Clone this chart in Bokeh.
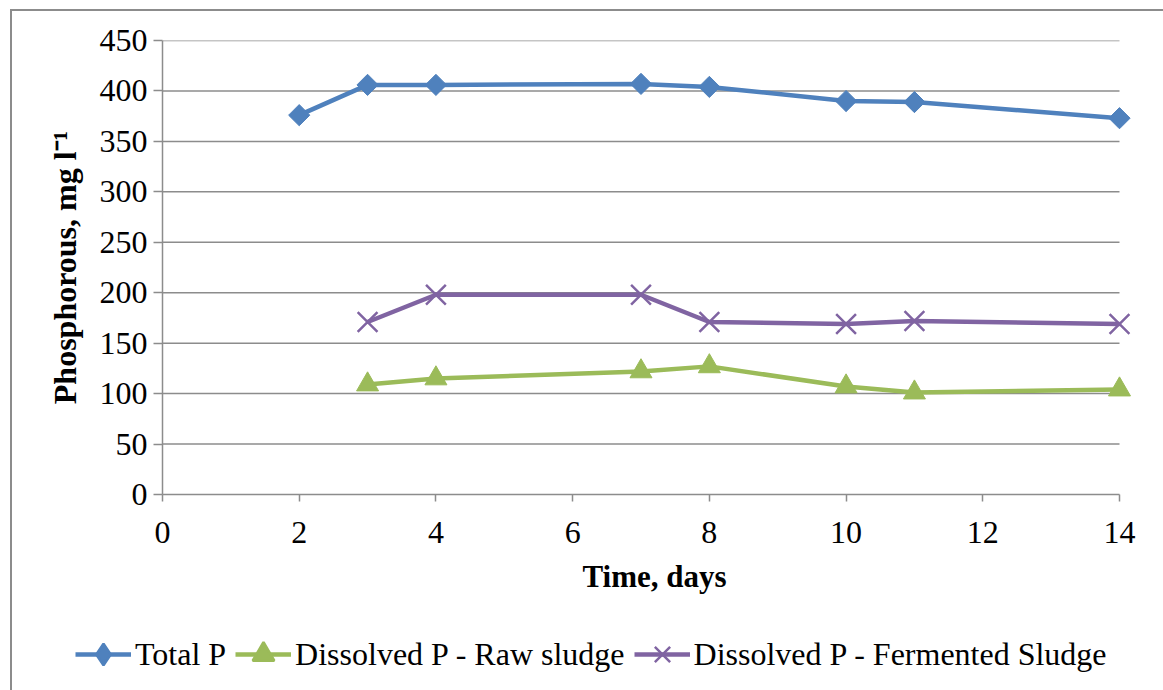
from bokeh.plotting import figure
from bokeh.layouts import column
from bokeh.models import Range1d, FixedTicker, Legend, LegendItem
from bokeh.embed import file_html
from bokeh.resources import INLINE
import math

# ---- data ----
days_total = [2, 3, 4, 7, 8, 10, 11, 14]
total_p = [376, 406, 406, 407, 404, 390, 389, 373]

days_diss = [3, 4, 7, 8, 10, 11, 14]
raw_sludge = [109, 115, 122, 127, 107, 101, 104]
fermented_sludge = [171, 198, 198, 171, 169, 172, 169]

x_ticks = [0, 2, 4, 6, 8, 10, 12, 14]
y_ticks = [0, 50, 100, 150, 200, 250, 300, 350, 400, 450]

series_labels = ["Total P", "Dissolved P - Raw sludge", "Dissolved P - Fermented Sludge"]
colors = ["#4F81BD", "#9BBB59", "#8064A2"]

FONT = "Liberation Serif"
GRID = "#8c8c8c"
BORDER = "2px solid #8c8c8c"

x_min, x_max = x_ticks[0], x_ticks[-1]
# a little room right of the last tick so the end markers are not cut
x_pad = 0.395

# ---- main chart ----
p = figure(width=1151, height=599, output_backend="svg", toolbar_location=None,
           x_range=Range1d(x_min, x_max + x_pad), y_range=Range1d(y_ticks[0], y_ticks[-1]),
           min_border_left=150, min_border_right=17, min_border_top=29,
           min_border_bottom=116)
p.outline_line_color = None
p.background_fill_color = "white"
p.border_fill_color = "white"

p.xaxis.ticker = FixedTicker(ticks=x_ticks)
p.yaxis.ticker = FixedTicker(ticks=y_ticks)
p.xaxis.bounds = (x_min, x_max)
for ax in (p.xaxis[0], p.yaxis[0]):
    ax.axis_line_color = GRID
    ax.axis_line_width = 1.5
    ax.major_tick_line_color = GRID
    ax.major_tick_line_width = 1.5
    ax.major_tick_in = 0
    ax.minor_tick_line_color = None
    ax.major_label_text_font = FONT
    ax.major_label_text_font_size = "32px"
    ax.major_label_text_color = "black"
    ax.axis_label_text_font = FONT
    ax.axis_label_text_font_style = "bold"
    ax.axis_label_text_color = "black"
p.xaxis.axis_label_text_font_size = "31px"
p.yaxis.axis_label_text_font_size = "32px"
p.xaxis.major_tick_out = 7
p.yaxis.major_tick_out = 9
p.xaxis.axis_label = "Time, days"
p.yaxis.axis_label = "Phosphorous, mg l\u207b\u00b9"
p.xaxis.major_label_standoff = 20
p.yaxis.major_label_standoff = 6
p.xaxis.axis_label_standoff = 13
p.yaxis.axis_label_standoff = 14

# horizontal gridlines only across the 0..14 span
p.xgrid.grid_line_color = None
p.ygrid.grid_line_color = None
p.segment(x0=x_min, x1=x_max, y0=y_ticks[1:], y1=y_ticks[1:],
          line_color=GRID, line_width=1.5)

p.line(days_total, total_p, line_color=colors[0], line_width=4.5)
p.scatter(days_total, total_p, marker="square", angle=math.pi / 4, size=15,
          fill_color=colors[0], line_color=colors[0])
p.line(days_diss, raw_sludge, line_color=colors[1], line_width=4.5)
p.scatter(days_diss, raw_sludge, marker="triangle", size=22,
          fill_color=colors[1], line_color=colors[1])
p.line(days_diss, fermented_sludge, line_color=colors[2], line_width=4.5)
p.scatter(days_diss, fermented_sludge, marker="x", size=28,
          line_color=colors[2], line_width=2.5)

# ---- legend strip: own figure, series drawn out of view so only the legend shows ----
lg = figure(width=1151, height=80, output_backend="svg", toolbar_location=None,
            x_range=Range1d(-100, -99), y_range=Range1d(-100, -99),
            x_axis_location=None, y_axis_location=None,
            min_border=0, min_border_left=0, min_border_right=0,
            min_border_top=0, min_border_bottom=0)
lg.outline_line_color = None
lg.xgrid.grid_line_color = None
lg.ygrid.grid_line_color = None
lg.border_fill_color = "white"
lg.background_fill_color = "white"

series_x = [days_total, days_diss, days_diss]
series_y = [total_p, raw_sludge, fermented_sludge]
legend_markers = ["diamond", "triangle", "x"]
items = []
for lab, col, mk, xs, ys in zip(series_labels, colors, legend_markers, series_x, series_y):
    rl = lg.line(xs, ys, line_color=col, line_width=4.5)
    rs = lg.scatter(xs, ys, marker=mk, fill_color=col, line_color=col, line_width=2.5)
    items.append(LegendItem(label=lab, renderers=[rl, rs]))

legend = Legend(items=items, orientation="horizontal", location=(63, 9),
                label_text_font=FONT, label_text_font_size="32px",
                label_text_color="black",
                glyph_width=56, glyph_height=54, label_standoff=4, spacing=9,
                padding=0, margin=0, border_line_color=None,
                background_fill_alpha=0)
lg.add_layout(legend, "center")

top = column(p, margin=(9, 0, 0, 10), spacing=0,
             styles={"border-left": BORDER, "border-top": BORDER,
                     "background-color": "white"})
bottom = column(lg, margin=(0, 0, 0, 10), spacing=0,
                styles={"border-left": BORDER, "background-color": "white"})

open("out.html", "w").write(file_html([top, bottom], INLINE))
